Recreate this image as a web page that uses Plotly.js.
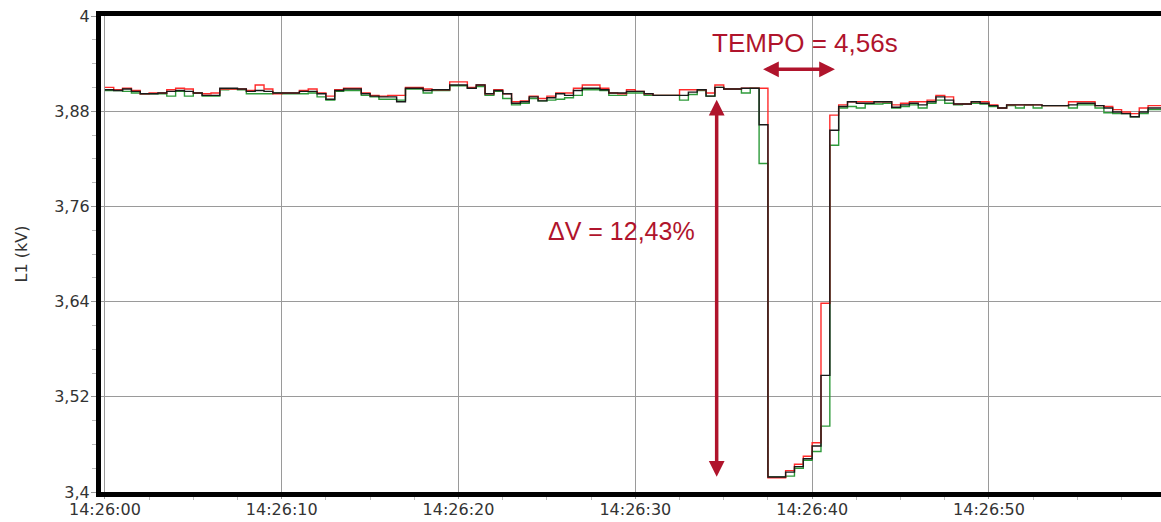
<!DOCTYPE html>
<html><head><meta charset="utf-8">
<script src="https://cdn.plot.ly/plotly-3.0.1.min.js"></script>
<style>html,body{margin:0;padding:0;background:#fff;overflow:hidden}#chart{width:1161px;height:522px}</style>
</head><body><div id="chart"></div>
<script>
// Sampling: one value every 0.5 s starting 14:26:00
const dateStr = '2023-01-01';
const startClock = '14:26:00';
const sampleStepMs = 500;

const redL1 = [3.910,3.907,3.909,3.906,3.902,3.903,3.903,3.907,3.909,3.908,
3.903,3.902,3.903,3.908,3.908,3.908,3.906,3.913,3.908,3.902,
3.903,3.903,3.906,3.908,3.903,3.899,3.907,3.909,3.909,3.903,
3.900,3.899,3.900,3.900,3.910,3.910,3.908,3.907,3.907,3.917,
3.917,3.910,3.913,3.902,3.907,3.902,3.892,3.893,3.899,3.896,
3.899,3.903,3.903,3.909,3.913,3.913,3.909,3.903,3.902,3.907,
3.905,3.902,3.900,3.900,3.900,3.907,3.907,3.907,3.903,3.913,
3.908,3.908,3.909,3.909,3.909,3.418,3.418,3.427,3.435,3.445,
3.462,3.638,3.875,3.888,3.892,3.892,3.892,3.892,3.892,3.888,
3.890,3.892,3.892,3.894,3.900,3.898,3.889,3.889,3.892,3.892,
3.888,3.884,3.888,3.888,3.888,3.888,3.887,3.887,3.887,3.892,
3.892,3.892,3.887,3.886,3.882,3.879,3.877,3.884,3.887,3.887];

const blackL1 = [3.907,3.906,3.908,3.905,3.902,3.902,3.903,3.905,3.906,3.905,
3.903,3.900,3.900,3.909,3.909,3.908,3.905,3.906,3.905,3.903,
3.903,3.903,3.905,3.905,3.902,3.895,3.906,3.908,3.908,3.902,
3.899,3.898,3.898,3.892,3.909,3.909,3.906,3.907,3.907,3.913,
3.913,3.909,3.913,3.902,3.906,3.902,3.890,3.892,3.898,3.893,
3.897,3.902,3.900,3.906,3.909,3.909,3.907,3.903,3.903,3.905,
3.905,3.902,3.900,3.900,3.900,3.900,3.904,3.907,3.899,3.910,
3.908,3.908,3.909,3.909,3.863,3.419,3.419,3.425,3.432,3.442,
3.458,3.547,3.856,3.886,3.892,3.890,3.890,3.892,3.892,3.885,
3.888,3.890,3.888,3.892,3.898,3.894,3.889,3.889,3.892,3.890,
3.887,3.884,3.888,3.888,3.888,3.888,3.887,3.887,3.887,3.888,
3.890,3.890,3.887,3.884,3.879,3.877,3.873,3.879,3.884,3.884];

const greenL1 = [3.906,3.906,3.905,3.903,3.902,3.902,3.902,3.899,3.905,3.899,
3.903,3.899,3.899,3.907,3.908,3.907,3.902,3.902,3.902,3.903,
3.902,3.902,3.902,3.903,3.898,3.894,3.905,3.906,3.906,3.900,
3.898,3.895,3.895,3.894,3.908,3.908,3.903,3.906,3.906,3.912,
3.912,3.909,3.911,3.900,3.905,3.896,3.888,3.890,3.896,3.893,
3.894,3.895,3.897,3.900,3.907,3.907,3.906,3.900,3.900,3.903,
3.903,3.900,3.900,3.900,3.900,3.894,3.901,3.906,3.899,3.910,
3.908,3.908,3.903,3.909,3.814,3.419,3.419,3.420,3.430,3.440,
3.451,3.483,3.837,3.884,3.886,3.884,3.889,3.889,3.890,3.884,
3.886,3.888,3.884,3.890,3.894,3.890,3.888,3.889,3.890,3.889,
3.886,3.884,3.887,3.884,3.888,3.884,3.887,3.887,3.887,3.884,
3.888,3.888,3.884,3.878,3.877,3.877,3.873,3.877,3.882,3.882];

const yTickVals = [3.4, 3.52, 3.64, 3.76, 3.88, 4];
const yTickText = ['3,4', '3,52', '3,64', '3,76', '3,88', '4'];
const xRange = ['2023-01-01 14:25:59.78', '2023-01-01 14:26:59.73'];
const yRange = [3.4, 4];

const annTempo = {text: 'TEMPO = 4,56s', x: '2023-01-01 14:26:39.6', y: 3.9665};
const annDeltaV = {text: '\u0394V = 12,43%', x: '2023-01-01 14:26:29.2', y: 3.729};
const vArrow = {x: '2023-01-01 14:26:34.6', yTop: 3.8963, yBottom: 3.4193};
const hArrow = {y: 3.9328, xLeft: '2023-01-01 14:26:37.14', xRight: '2023-01-01 14:26:41.29'};

function buildTimes(n) {
  const base = new Date(dateStr + 'T' + startClock + 'Z').getTime();
  const out = [];
  for (let i = 0; i < n; i++) {
    const d = new Date(base + i * sampleStepMs);
    out.push(d.toISOString().replace('T', ' ').replace('Z', ''));
  }
  return out;
}
function hold(arr) { return arr.concat([arr[arr.length - 1]]); }

const times = buildTimes(redL1.length + 1);
const red = '#ff2a2a', green = '#2e9a3a', black = '#1a1a1a', dark = '#b0142c';

const mk = (vals, color) => ({
  x: times, y: hold(vals), type: 'scatter', mode: 'lines',
  line: {shape: 'hv', color: color, width: 1.4}, hoverinfo: 'skip', showlegend: false
});

const data = [mk(greenL1, green), mk(redL1, red), mk(blackL1, black)];

const tickFont = {family: 'DejaVu Sans, sans-serif', size: 16, color: '#333'};

const layout = {
  width: 1161, height: 522,
  margin: {l: 101, r: 0, t: 16, b: 30, pad: 0},
  paper_bgcolor: '#fff', plot_bgcolor: '#fff',
  separators: ',.',
  xaxis: {
    type: 'date', range: xRange,
    tickformat: '%H:%M:%S', tick0: dateStr + ' ' + startClock, dtick: 10000,
    showgrid: true, gridcolor: '#9a9a9a', gridwidth: 1,
    ticks: 'outside', ticklen: 2, tickcolor: '#999', tickwidth: 1, ticklabelstandoff: -3,
    minor: {dtick: 2500, ticks: 'outside', ticklen: 3, tickcolor: '#bbb', showgrid: false},
    showline: true, linecolor: '#000', linewidth: 5, mirror: true,
    tickfont: tickFont, zeroline: false, fixedrange: true
  },
  yaxis: {
    range: yRange, tickmode: 'array', tickvals: yTickVals, ticktext: yTickText,
    showgrid: true, gridcolor: '#9a9a9a', gridwidth: 1,
    ticks: 'outside', ticklen: 5, tickcolor: '#999', tickwidth: 1, ticklabelstandoff: -2,
    minor: {tickmode: 'linear', tick0: 3.4, dtick: 0.03, ticks: 'outside', ticklen: 4, tickcolor: '#bbb', showgrid: false},
    showline: true, linecolor: '#000', linewidth: 5,
    tickfont: tickFont, zeroline: false, fixedrange: true,
    title: {text: 'L1 (kV)', font: {family: 'DejaVu Sans, sans-serif', size: 16, color: '#333'}, standoff: 24}
  },
  annotations: [
    {x: annTempo.x, y: annTempo.y, xref: 'x', yref: 'y', text: annTempo.text, showarrow: false,
     font: {family: 'Liberation Sans, Arial, sans-serif', size: 26, color: dark}},
    {x: annDeltaV.x, y: annDeltaV.y, xref: 'x', yref: 'y', text: annDeltaV.text, showarrow: false,
     font: {family: 'Liberation Sans, Arial, sans-serif', size: 25, color: dark}},
    {x: vArrow.x, y: vArrow.yBottom, ax: vArrow.x, ay: vArrow.yTop, xref: 'x', yref: 'y', axref: 'x', ayref: 'y',
     text: '', showarrow: true, arrowside: 'end+start', arrowhead: 2, arrowsize: 0.9, arrowwidth: 3.5, arrowcolor: dark, standoff: 0, startstandoff: 0},
    {x: hArrow.xRight, y: hArrow.y, ax: hArrow.xLeft, ay: hArrow.y, xref: 'x', yref: 'y', axref: 'x', ayref: 'y',
     text: '', showarrow: true, arrowside: 'end+start', arrowhead: 2, arrowsize: 0.9, arrowwidth: 3.5, arrowcolor: dark, standoff: 0, startstandoff: 0}
  ]
};

Plotly.newPlot('chart', data, layout, {displayModeBar: false, staticPlot: true});
</script></body></html>
